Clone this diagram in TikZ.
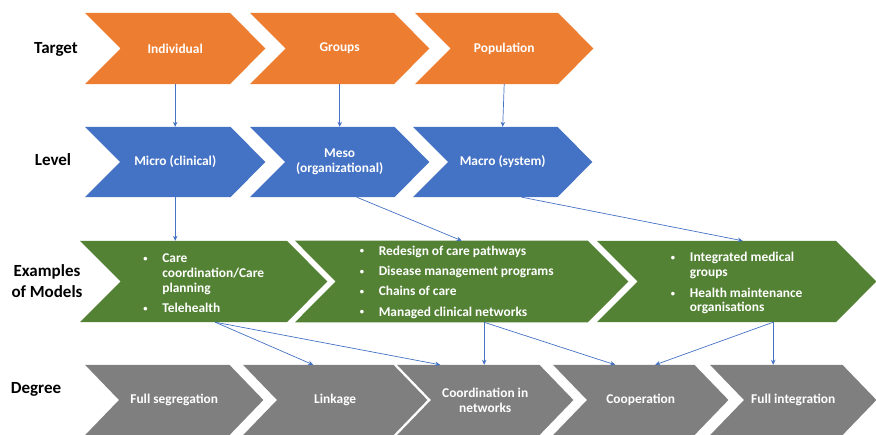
\documentclass[tikz,border=0pt]{standalone}
\usepackage{fontspec}
\setmainfont{Carlito}
\usetikzlibrary{arrows.meta,backgrounds}
\definecolor{chOrange}{HTML}{ED7D31}
\definecolor{chBlue}{HTML}{4472C4}
\definecolor{chGreen}{HTML}{548235}
\definecolor{chGray}{HTML}{7F7F7F}
\definecolor{linkBlue}{HTML}{4472C4}

% chevron text box: name, left x, tip x, centre y, height, text
\newcommand\chevbox[6]{%
  \node[chevron, minimum width=#3bp-#2bp, minimum height=#5bp] (#1) at (#2,#4) {#6};}
% small list bullet in a fixed-width box
\newcommand\blt{\makebox[19bp][l]{\raisebox{1.2bp}{\fontsize{8.5bp}{8.5bp}\selectfont •}}}
% move content down without changing its box
\newcommand\lowerby[2]{\raisebox{-#1}[\height][\depth]{#2}}

\begin{document}
\begin{tikzpicture}[x=1bp,y=-1bp,
  chevron/.style={rectangle, inner sep=0pt, anchor=west, text=white,
    font=\fontsize{13.4bp}{15bp}\selectfont\bfseries, align=center},
  rowlabel/.style={font=\fontsize{17bp}{21bp}\selectfont\bfseries, align=center, text=black},
  link/.style={draw=linkBlue, line width=0.7bp, -{Stealth[length=5bp,width=4.5bp]}},
]
\useasboundingbox (0,0) rectangle (876,435);

% row labels
\node[rowlabel] (lblT) at (56,49) {Target};
\node[rowlabel] (lblL) at (53,160) {Level};
\node[rowlabel] (lblE) at (47,281) {Examples\\of Models};
\node[rowlabel] (lblD) at (36,389) {Degree};

% target
\chevbox{t1}{85}{265}{48.5}{71}{Individual}
\chevbox{t2}{250}{429}{48.5}{71}{Groups}
\chevbox{t3}{415}{593}{48.5}{71}{Population}

% level
\chevbox{l1}{85}{265}{162}{70}{Micro (clinical)}
\chevbox{l2}{250}{429}{162}{70}{Meso\\(organizational)}
\chevbox{l3}{413}{592}{162}{70}{Macro (system)}

% examples of models
\chevbox{g1}{80}{327}{281.5}{81}{\lowerby{3.5bp}{%
  \begin{tabular}{@{}l@{}l@{}}
  \blt & Care\\
       & coordination/Care\\
       & planning\\[5bp]
  \blt & Telehealth
  \end{tabular}}}
\chevbox{g2}{295}{628}{281.5}{81}{\fontsize{13.4bp}{20.3bp}\selectfont
  \begin{tabular}{@{}l@{}l@{}}
  \blt & Redesign of care pathways\\
  \blt & Disease management programs\\
  \blt & Chains of care\\
  \blt & Managed clinical networks
  \end{tabular}\hspace{10bp}}
\chevbox{g3}{597}{876}{281.5}{81}{\fontsize{13.4bp}{14.5bp}\selectfont\lowerby{2.5bp}{%
  \begin{tabular}{@{}l@{}l@{}}
  \blt & Integrated medical\\
       & groups\\[6.5bp]
  \blt & Health maintenance\\
       & organisations
  \end{tabular}}}

% degree
\chevbox{d1}{85}{263}{400}{70}{Full segregation}
\chevbox{d2}{243}{427}{400}{70}{Linkage}
\chevbox{d3}{397}{573}{400}{70}{Coordination in\\networks}
\chevbox{d4}{553}{728}{400}{70}{Cooperation}
\chevbox{d5}{710}{876}{400}{70}{Full integration}

% chevron shapes behind the texts
\begin{pgfonlayer}{background}
\foreach \n/\c/\d in {t1/chOrange/35.5, t2/chOrange/35.5, t3/chOrange/35.5,
    l1/chBlue/35, l2/chBlue/35, l3/chBlue/35,
    g1/chGreen/40.5, g2/chGreen/40.5, g3/chGreen/40.5,
    d1/chGray/34, d2/chGray/34, d3/chGray/34, d4/chGray/34, d5/chGray/34}
  \fill[\c] (\n.north west) -- ([xshift=-\d bp]\n.north east) -- (\n.east)
    -- ([xshift=-\d bp]\n.south east) -- (\n.south west)
    -- ([xshift=\d bp]\n.west) -- cycle;
\end{pgfonlayer}

% connector end points
\coordinate (l2s) at ([xshift=17bp]l2.south);
\coordinate (l3s) at ([xshift=19bp]l3.south);
\coordinate (g1s) at ([xshift=11.5bp]g1.south);
\coordinate (g2s) at ([xshift=22.5bp]g2.south);
\coordinate (g3s) at ([xshift=36.5bp]g3.south);

% target -> level
\draw[link] (t1.south) -- (l1.north);
\draw[link] (t2.south) -- (l2.north);
\draw[link] (t3.south) -- (l3.north);
% level -> examples
\draw[link] (l1.south) -- (l1.south |- g1.north);
\draw[link] (l2s) -- (g2.north);
\draw[link] (l3s) -- ([xshift=6bp]g3.north);
% examples -> degree
\draw[link] (g1s) -- ([xshift=-22bp]d2.north);
\draw[link] (g1s) -- ([xshift=-45bp]d3.north);
\draw[link] (g2s) -- (g2s |- d3.north);
\draw[link] (g2s) -- ([xshift=-25.5bp]d4.north);
\draw[link] (g3s) -- ([xshift=14.5bp]d4.north);
\draw[link] (g3s) -- (g3s |- d5.north);
\end{tikzpicture}
\end{document}
